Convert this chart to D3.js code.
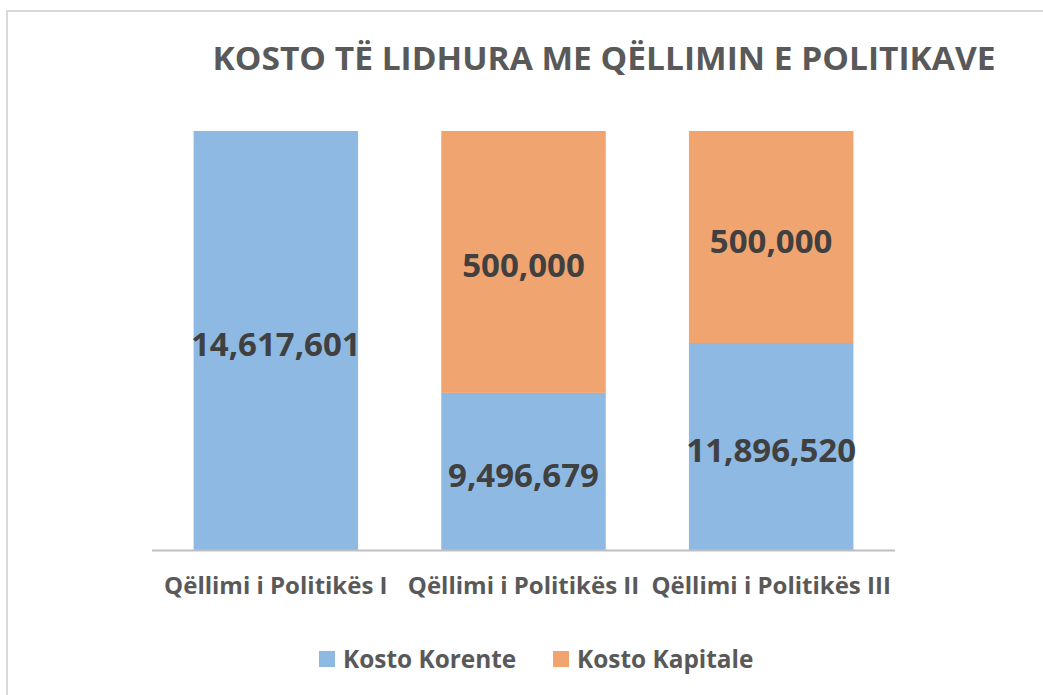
<!DOCTYPE html>
<html><head><meta charset="utf-8">
<script src="https://cdn.jsdelivr.net/npm/d3@7"></script>
<style>body{margin:0;background:#fff}svg{display:block}</style>
</head><body>
<svg id="c" width="1043" height="695"></svg>
<script>
const categories = ["Qëllimi i Politikës I", "Qëllimi i Politikës II", "Qëllimi i Politikës III"];
const seriesNames = ["Kosto Korente", "Kosto Kapitale"];
// values shown in the data labels
const kostoKorente = [14617601, 9496679, 11896520];
const kostoKapitale = [null, 500000, 500000];
// plotted share of each bar (percent)
const shareKorente = [100, 37.5, 49.4];
const shareKapitale = [0, 62.5, 50.6];
const title = "KOSTO TË LIDHURA ME QËLLIMIN E POLITIKAVE";

const colors = ["#8db9e2", "#f0a46f"];
const svg = d3.select("#c");
const font = "'Open Sans', sans-serif";

// frame
svg.append("rect").attr("x", 7).attr("y", 11).attr("width", 1060).attr("height", 720)
  .attr("fill", "none").attr("stroke", "#d9d9d9").attr("stroke-width", 2);

svg.append("text").attr("x", 604).attr("y", 58).attr("dy", "0.35em")
  .attr("text-anchor", "middle").attr("font-family", font).attr("font-weight", 700)
  .attr("font-size", 33).attr("fill", "#595959")
  .attr("textLength", 783).attr("lengthAdjust", "spacingAndGlyphs").text(title);

const x = d3.scaleBand().domain(categories).range([152, 895]).paddingInner(0.336).paddingOuter(0.168);
const y = d3.scaleLinear().domain([0, 100]).range([550, 131]);

const rows = categories.map((c, i) => ({cat: c, korente: shareKorente[i], kapitale: shareKapitale[i]}));
const stack = d3.stack().keys(["korente", "kapitale"])(rows);
const labelVals = [kostoKorente, kostoKapitale];

stack.forEach((layer, si) => {
  const g = svg.append("g");
  g.selectAll("rect").data(layer).join("rect")
    .attr("x", d => x(d.data.cat)).attr("width", x.bandwidth())
    .attr("y", d => y(d[1])).attr("height", d => y(d[0]) - y(d[1]))
    .attr("fill", colors[si]);
  g.selectAll("text").data(layer).join("text")
    .filter((d, i) => labelVals[si][i] != null)
    .attr("x", d => x(d.data.cat) + x.bandwidth() / 2)
    .attr("y", (d) => (y(d[0]) + y(d[1])) / 2 + 4)
    .attr("dy", "0.35em").attr("text-anchor", "middle")
    .attr("font-family", font).attr("font-weight", 700).attr("font-size", 33).attr("fill", "#404040")
    .text((d, i) => d3.format(",")(labelVals[si][categories.indexOf(d.data.cat)]));
});

// axis
const ax = svg.append("g").attr("transform", "translate(0,550)")
  .call(d3.axisBottom(x).tickSize(0).tickPadding(0));
ax.select(".domain").attr("stroke", "#bfbfbf").attr("stroke-width", 2).attr("d", "M152,0.5H895");
ax.selectAll("text").attr("y", 36).attr("dy", "0.35em")
  .attr("font-family", font).attr("font-weight", 700).attr("font-size", 24).attr("fill", "#595959");

// legend
const legX = [319, 553];
seriesNames.forEach((n, i) => {
  svg.append("rect").attr("x", legX[i]).attr("y", 651).attr("width", 16).attr("height", 16).attr("fill", colors[i]);
  svg.append("text").attr("x", legX[i] + 24).attr("y", 659).attr("dy", "0.35em")
    .attr("font-family", font).attr("font-weight", 700).attr("font-size", 24.4).attr("fill", "#595959").text(n);
});
</script>
</body></html>
